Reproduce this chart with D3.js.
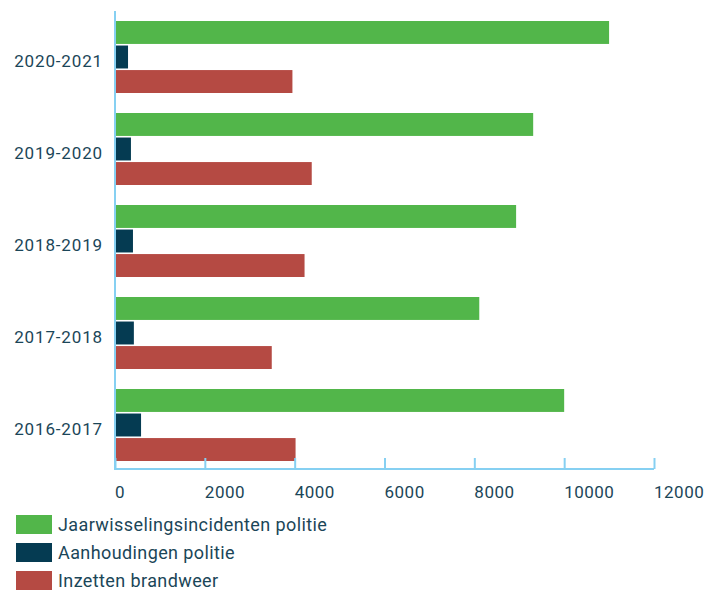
<!DOCTYPE html>
<html><head><meta charset="utf-8">
<script src="https://cdn.jsdelivr.net/npm/d3@7/dist/d3.min.js"></script>
<style>
body{margin:0;background:#fff;}
text{font-family:Roboto,"Noto Sans",sans-serif;fill:#1b4658;}
</style></head>
<body>
<script>
const categories = ["2020-2021","2019-2020","2018-2019","2017-2018","2016-2017"];
const seriesNames = ["Jaarwisselingsincidenten politie","Aanhoudingen politie","Inzetten brandweer"];
const incidenten = [11000, 9310, 8930, 8110, 10000];
const aanhoudingen = [290, 355, 400, 420, 580];
const brandweer = [3950, 4380, 4220, 3490, 4020];
const ticks = [0,2000,4000,6000,8000,10000,12000];
const colors = ["#52b64a","#053b52","#b54a43"];

const W=711,H=590;
const svg=d3.select("body").append("svg").attr("width",W).attr("height",H);
const x=d3.scaleLinear().domain([0,12000]).range([115,654]);
const y=d3.scaleBand().domain(categories).range([11,471]).paddingInner(0.2174).paddingOuter(0.1087);
const ys=d3.scaleBand().domain([0,1,2]).range([0,y.bandwidth()]).paddingInner(0.065);
const series=[incidenten,aanhoudingen,brandweer];
const axisColor="#86d0f2";

const g=svg.append("g");
categories.forEach((c,i)=>{
  series.forEach((s,j)=>{
    g.append("rect").attr("x",x(0)).attr("y",y(c)+ys(j))
     .attr("width",x(s[i])-x(0)).attr("height",ys.bandwidth()).attr("fill",colors[j]);
  });
  svg.append("text").attr("x",103).attr("y",y(c)+y.bandwidth()/2+10)
    .attr("text-anchor","end").attr("font-size",17).attr("letter-spacing",0.85).text(c);
});

// axes
svg.append("line").attr("x1",x(0)).attr("x2",x(0)).attr("y1",11).attr("y2",470)
  .attr("stroke",axisColor).attr("stroke-width",2);
const xa=svg.append("g").attr("transform","translate(0,469)")
  .call(d3.axisBottom(x).tickValues(ticks).tickSize(-11).tickFormat(""));
xa.select(".domain").attr("stroke",axisColor).attr("stroke-width",2).attr("d",`M${x(0)},0H${x(12000)}`);
xa.selectAll(".tick line").attr("stroke",axisColor).attr("stroke-width",2);
ticks.forEach(t=>{
  svg.append("text").attr("x",x(t)).attr("y",498).attr("font-size",17)
    .attr("letter-spacing",0.5).text(t);
});

// legend
seriesNames.forEach((n,i)=>{
  const ly=515+i*28;
  svg.append("rect").attr("x",16).attr("y",ly).attr("width",36).attr("height",19).attr("fill",colors[i]);
  svg.append("text").attr("x",58).attr("y",ly+16).attr("font-size",18).attr("letter-spacing",0.4).text(n);
});
</script>
</body></html>
